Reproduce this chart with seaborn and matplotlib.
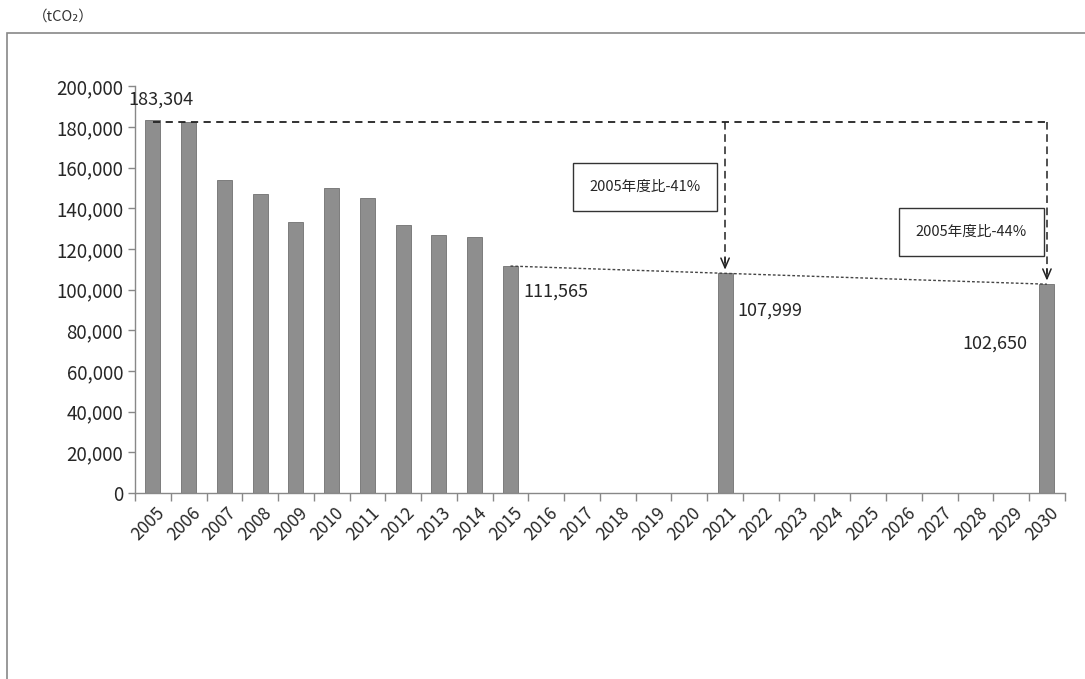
import numpy as np
import pandas as pd
import matplotlib
matplotlib.use("Agg")
import matplotlib.pyplot as plt
from matplotlib.patches import Rectangle
from matplotlib.ticker import FuncFormatter, FixedLocator
from matplotlib.transforms import ScaledTranslation
import seaborn as sns

# data
years = [str(y) for y in range(2005, 2031)]
data_years = ["2005", "2006", "2007", "2008", "2009", "2010", "2011",
              "2012", "2013", "2014", "2015", "2021", "2030"]
emissions = [183304, 182500, 154000, 147000, 133000, 150000, 145000,
             131700, 126900, 125900, 111565, 107999, 102650]
labelled = {"2005": "183,304", "2015": "111,565", "2021": "107,999", "2030": "102,650"}
targets = ["2021", "2030"]
target_texts = ["2005年度比-41%", "2005年度比-44%"]

sns.set_style("ticks")
plt.rcParams['font.family'] = ['Noto Sans CJK JP', 'DejaVu Sans']

df = pd.DataFrame({"year": data_years, "value": emissions})

fig = plt.figure(figsize=(10.85, 6.79), dpi=100)
ax = fig.add_axes([0.1244, 0.274, 0.857, 0.599])

sns.barplot(data=df, x="year", y="value", order=years, width=0.42,
            color="#8e8e8e", saturation=1, edgecolor="#707070",
            linewidth=0.6, ax=ax)

ax.set_xlim(-0.5, len(years) - 0.5)
ax.set_ylim(0, 200000)
ax.set_yticks(np.arange(0, 200001, 20000))
ax.yaxis.set_major_formatter(FuncFormatter(lambda v, p: f"{int(v):,}"))
ax.set_xlabel("")
ax.set_ylabel("")

# x labels at centers, tick marks at category boundaries
ax.tick_params(axis="x", which="major", length=0, pad=8, labelsize=12.5)
ax.xaxis.set_minor_locator(FixedLocator(np.arange(-0.5, len(years), 1.0)))
ax.tick_params(axis="x", which="minor", length=6, width=1, color="#888888", direction="out")
ax.tick_params(axis="y", length=5, width=1, color="#888888", direction="out", labelsize=13.5)
off = ScaledTranslation(2 / 72, 0, fig.dpi_scale_trans)
for lab in ax.get_xticklabels():
    lab.set_rotation(45)
    lab.set_ha("right")
    lab.set_rotation_mode("anchor")
    lab.set_transform(lab.get_transform() + off)

sns.despine(ax=ax)
for s in ["left", "bottom"]:
    ax.spines[s].set_color("#888888")
    ax.spines[s].set_linewidth(1)

pos = {y: i for i, y in enumerate(years)}
val = dict(zip(data_years, emissions))
base = val["2005"]

# baseline from 2005 across to 2030
ax.plot([pos["2005"], pos["2030"]], [base - 800, base - 800], ls=(0, (4, 3)),
        color="#222222", lw=1.3)

# thin trend line 2015 -> 2030
ax.plot([pos["2015"], pos["2030"]], [val["2015"], val["2030"]], ls=(0, (2, 1.5)),
        color="#444444", lw=1)

# vertical drops with open arrow heads
for t in targets:
    x = pos[t]
    ax.plot([x, x], [base - 800, val[t] + 5000], ls=(0, (5, 3)), color="#222222", lw=1.1)
    ax.annotate("", xy=(x, val[t] + 400), xytext=(x, val[t] + 9000),
                arrowprops=dict(arrowstyle="->,head_length=0.7,head_width=0.3",
                                color="#222222", lw=1.1))

# value labels
ax.annotate(labelled["2005"], xy=(pos["2005"], val["2005"]), xytext=(8, 12),
            textcoords="offset pixels", ha="center", va="bottom", fontsize=13)
ax.annotate(labelled["2015"], xy=(pos["2015"] + 0.21, val["2015"]), xytext=(5, -26),
            textcoords="offset pixels", ha="left", va="center", fontsize=13)
ax.annotate(labelled["2021"], xy=(pos["2021"] + 0.21, val["2021"]), xytext=(5, -37),
            textcoords="offset pixels", ha="left", va="center", fontsize=13)
ax.annotate(labelled["2030"], xy=(pos["2030"] - 0.21, val["2030"]), xytext=(-12, -59),
            textcoords="offset pixels", ha="right", va="center", fontsize=13)

# comparison boxes
box_pos = [(13.76, 150400), (22.89, 128300)]
for (bx, by), txt in zip(box_pos, target_texts):
    ax.text(bx, by, txt, ha="center", va="center", fontsize=10.5,
            bbox=dict(boxstyle="square,pad=1.15", fc="white", ec="#333333", lw=1))

# unit and outer frame
fig.text(0.03, 0.975, "（tCO₂）", fontsize=10.5, ha="left", va="center", color="#333333")
fig.patches.append(Rectangle((7 / 1085, -0.05), 1.2, 1 - 33 / 679 + 0.05,
                             transform=fig.transFigure, fill=False,
                             ec="#888888", lw=1.2, figure=fig))

fig.savefig("out.png", dpi=100)
